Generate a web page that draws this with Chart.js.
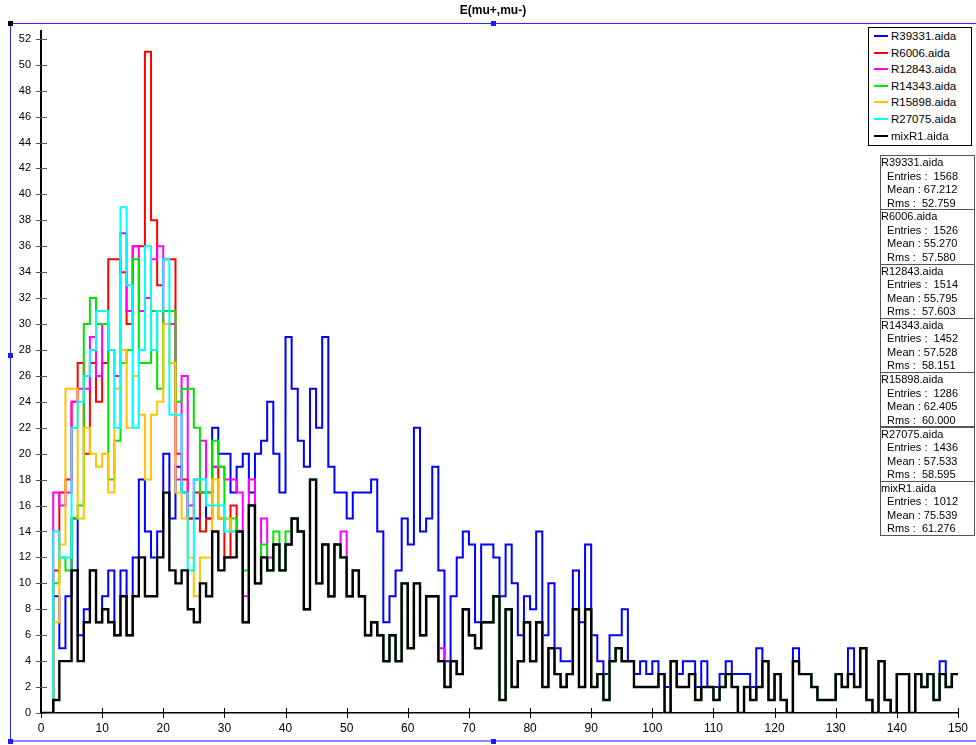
<!DOCTYPE html>
<html>
<head>
<meta charset="utf-8">
<title>E(mu+,mu-)</title>
<script src="https://cdn.jsdelivr.net/npm/chart.js@4.4.1/dist/chart.umd.min.js"></script>
<style>
  body { margin: 0; background: #fff; font-family: "Liberation Sans", Arial, sans-serif; }
  #wrap { position: relative; width: 976px; height: 745px; overflow: hidden; }
  #histChart { position: absolute; left: 0; top: 0; }
  #title { position: absolute; left: 0; width: 986px; top: 3px; text-align: center; font-size: 12px; font-weight: bold; color: #000; }
  .fline { position: absolute; background: #2a2aff; }
  .knob { position: absolute; width: 5px; height: 5px; background: #1a1aff; }
  #legend { position: absolute; left: 868px; top: 27px; width: 102px; height: 117px; border: 1px solid #000; background: #fff; font-size: 11.5px; }
  #legend .row { position: relative; height: 16.6px; line-height: 16.6px; }
  #legend .swatch { position: absolute; left: 5px; top: 7px; width: 14px; height: 2px; }
  #legend .lbl { position: absolute; left: 22px; top: 0; white-space: nowrap; }
  .stat { position: absolute; left: 880px; width: 93px; height: 53.3px; border: 1px solid #555; background: #fff; font-size: 11px; line-height: 13.5px; white-space: pre; color: #000; }
</style>
</head>
<body>
<div id="wrap">
  <canvas id="histChart" width="976" height="745"></canvas>
  <div id="title">E(mu+,mu-)</div>
  <div class="fline" style="left:10px; top:23px; width:966px; height:1px;"></div>
  <div class="fline" style="left:10px; top:23px; width:1px; height:718px;"></div>
  <div class="fline" style="left:10px; top:740px; width:966px; height:2px; background:#8a8aff;"></div>
  <div class="knob" style="left:8px; top:21px; background:#000;"></div>
  <div class="knob" style="left:491px; top:21px;"></div>
  <div class="knob" style="left:8px; top:353px;"></div>
  <div class="knob" style="left:8px; top:739px;"></div>
  <div class="knob" style="left:491px; top:739px;"></div>
  <div id="legend"></div>
  <div id="stats"></div>
</div>
<script>
// 各ランのヒストグラム (bin幅 1, 0〜150)
var labels = ["R39331.aida", "R6006.aida", "R12843.aida", "R14343.aida", "R15898.aida", "R27075.aida", "mixR1.aida"];
var colors = ["#0000ff", "#ff0000", "#ff00ff", "#00e800", "#ffc300", "#00ffff", "#000000"];

var r39331 = [0,0,9,5,9,15,6,8,11,7, 9,11,6,11,6,12,18,14,12,14, 20,15,19,17,15,15,17,15,22,20, 20,17,19,20,17,20,21,24,20,17,
  29,25,21,19,25,22,29,19,17,17, 15,17,17,17,18,14,7,9,11,15, 13,22,14,15,19,11,4,9,12,14, 13,7,13,13,12,9,13,10,6,9,
  8,14,6,10,5,4,4,11,7,13, 6,4,3,6,6,8,4,3,4,3, 4,3,2,4,3,4,4,2,4,2, 2,3,4,3,3,3,2,5,4,1,
  3,1,0,5,3,3,2,1,1,1, 3,2,5,2,5,1,0,4,1,0, 3,3,0,3,2,3,1,4,2,3];
var r6006 = [0,0,11,17,18,24,27,20,27,24, 27,35,35,34,30,36,36,51,38,33, 35,35,20,18,15,17,14,15,19,15, 12,16,14,7,16,10,12,11,13,11,
  13,15,14,8,18,10,13,9,13,12, 9,11,9,6,7,6,4,6,4,10, 5,10,6,9,9,4,2,4,3,8, 6,5,7,7,9,1,8,2,4,7,
  4,7,2,5,3,2,3,8,2,8, 2,3,1,4,5,4,4,2,2,2, 2,3,0,4,2,2,3,1,2,2, 1,2,3,2,0,2,1,2,4,1,
  3,1,0,4,3,3,2,1,1,1, 3,2,3,2,5,1,0,4,1,0, 3,3,0,3,2,3,1,3,2,3];
var r12843 = [0,0,17,16,17,24,25,25,29,26, 30,28,26,37,31,36,31,32,35,36, 30,30,18,26,16,18,21,17,19,19, 18,18,17,9,18,10,15,12,13,11,
  13,15,14,8,18,10,13,9,13,14, 9,11,9,6,7,6,4,6,4,10, 5,10,6,9,9,5,2,4,3,8, 6,5,7,7,9,1,8,2,4,7,
  4,7,2,5,3,2,3,8,2,8, 2,3,1,4,5,4,4,2,2,2, 2,3,0,4,2,2,3,1,2,2, 1,2,3,2,0,2,1,2,4,1,
  3,1,0,4,3,3,2,1,1,1, 3,2,3,2,5,1,0,4,1,0, 3,3,0,3,2,3,1,3,2,3];
var r14343 = [0,0,10,12,11,15,16,30,32,30, 30,18,21,27,28,35,27,27,31,25, 31,31,24,25,25,22,17,17,21,19, 15,15,14,11,16,10,13,11,14,11,
  14,15,14,8,18,10,13,9,13,12, 9,11,9,6,7,6,4,6,4,10, 5,10,6,9,9,4,2,4,3,8, 6,5,7,7,9,1,8,2,4,7,
  4,7,2,5,3,2,3,8,2,8, 2,3,1,4,5,4,4,2,2,2, 2,3,0,4,2,2,3,1,2,2, 1,2,3,2,0,2,1,2,4,1,
  3,1,0,4,3,3,2,1,1,1, 3,2,3,2,5,1,0,4,1,0, 3,3,0,3,2,3,1,3,2,3];
var r15898 = [0,0,7,13,25,25,15,22,20,19, 20,17,25,28,22,26,23,18,23,24, 30,27,17,15,12,9,12,12,18,15, 15,14,14,7,16,10,12,11,13,11,
  13,15,14,8,18,10,13,9,13,12, 9,11,9,6,7,6,4,6,4,10, 5,10,6,9,9,4,2,4,3,8, 6,5,7,7,9,1,8,2,4,7,
  4,7,2,5,3,2,3,8,2,8, 2,3,1,4,5,4,4,2,2,2, 2,3,0,4,2,2,3,1,2,2, 1,2,3,2,0,2,1,2,4,1,
  3,1,0,4,3,3,2,1,1,1, 3,2,3,2,5,1,0,4,1,0, 3,3,0,3,2,3,1,3,2,3];
var r27075 = [0,0,14,12,12,22,24,26,28,31, 31,28,22,39,33,22,28,36,28,31, 35,23,23,17,11,18,18,16,16,16, 14,14,14,7,16,10,12,11,13,11,
  13,15,14,8,18,10,13,9,13,12, 9,11,9,6,7,6,4,6,4,10, 5,10,6,9,9,4,2,4,3,8, 6,5,7,7,9,1,8,2,4,7,
  4,7,2,5,3,2,3,8,2,8, 2,3,1,4,5,4,4,2,2,2, 2,3,0,4,2,2,3,1,2,2, 1,2,3,2,0,2,1,2,4,1,
  3,1,0,4,3,3,2,1,1,1, 3,2,3,2,5,1,0,4,1,0, 3,3,0,3,2,3,1,3,2,3];
var mixR1 = [0,0,1,4,4,11,4,7,11,7, 8,7,6,9,6,9,12,9,9,12, 17,11,10,11,8,7,10,9,14,11, 12,12,14,7,16,10,12,11,13,11,
  13,15,14,8,18,10,13,9,13,12, 9,11,9,6,7,6,4,6,4,10, 5,10,6,9,9,4,2,4,3,8, 6,5,7,7,9,1,8,2,4,7,
  4,7,2,5,3,2,3,8,2,8, 2,3,1,4,5,4,4,2,2,2, 2,3,0,4,2,2,3,1,2,2, 1,2,3,2,0,2,1,2,4,1,
  3,1,0,4,3,3,2,1,1,1, 3,2,3,2,5,1,0,4,1,0, 3,3,0,3,2,3,1,3,2,3];

// 統計ボックス
var entries = [1568, 1526, 1514, 1452, 1286, 1436, 1012];
var means = ["67.212", "55.270", "55.795", "57.528", "62.405", "57.533", "75.539"];
var rmsValues = ["52.759", "57.580", "57.603", "58.151", "60.000", "58.595", "61.276"];

var series = [r39331, r6006, r12843, r14343, r15898, r27075, mixR1];
var xTicks = [0, 10, 20, 30, 40, 50, 60, 70, 80, 90, 100, 110, 120, 130, 140, 150];
var yTicks = [0, 2, 4, 6, 8, 10, 12, 14, 16, 18, 20, 22, 24, 26, 28, 30, 32, 34, 36, 38, 40, 42, 44, 46, 48, 50, 52];

// bin i -> 点 (i, v) 、最後のbinを閉じる点を足す
function toSteps(values) {
  var pts = values.map(function(v, i) { return { x: i, y: v }; });
  pts.push({ x: values.length, y: values[values.length - 1] });
  return pts;
}

var datasets = series.map(function(values, i) {
  return {
    label: labels[i],
    data: toSteps(values),
    borderColor: colors[i],
    backgroundColor: colors[i],
    borderWidth: i == 6 ? 2.4 : 2,
    stepped: 'before',
    pointRadius: 0,
    fill: false,
    order: 6 - i
  };
});

// 軸をまたぐ目盛り線
var crossTicks = {
  id: 'crossTicks',
  afterDraw: function(chart) {
    var ctx = chart.ctx;
    var xs = chart.scales.x;
    var ys = chart.scales.y;
    ctx.save();
    ctx.lineWidth = 1;
    ctx.strokeStyle = '#555';
    ys.ticks.forEach(function(t) {
      var py = Math.round(ys.getPixelForValue(t.value)) + 0.5;
      ctx.beginPath();
      ctx.moveTo(ys.right - 5, py);
      ctx.lineTo(ys.right + 6, py);
      ctx.stroke();
    });
    ctx.strokeStyle = '#000';
    xs.ticks.forEach(function(t) {
      var px = Math.round(xs.getPixelForValue(t.value)) + 0.5;
      ctx.beginPath();
      ctx.moveTo(px, xs.top - 5);
      ctx.lineTo(px, xs.top + 5);
      ctx.stroke();
    });
    ctx.restore();
  }
};

Chart.defaults.font.family = '"Liberation Sans", Arial, sans-serif';

var ctx = document.getElementById("histChart");
var histChart = new Chart(ctx, {
  type: 'line',
  data: { datasets: datasets },
  options: {
    responsive: false,
    animation: false,
    layout: { padding: { top: 31, right: 16, left: 0, bottom: 0 } },
    plugins: {
      legend: { display: false },
      tooltip: { enabled: false }
    },
    scales: {
      x: {
        type: 'linear',
        min: 0,
        max: 150,
        afterFit: function(scale) { scale.height = 32; },
        afterBuildTicks: function(scale) {
          scale.ticks = xTicks.map(function(v) { return { value: v }; });
        },
        grid: { display: false, drawTicks: false },
        border: { color: '#000', width: 1.5 },
        ticks: { color: '#000', font: { size: 12 }, padding: 8, maxRotation: 0, autoSkip: false }
      },
      y: {
        min: 0,
        max: 52.6,
        afterFit: function(scale) { scale.width = 41; },
        afterBuildTicks: function(scale) {
          scale.ticks = yTicks.map(function(v) { return { value: v }; });
        },
        grid: { display: false, drawTicks: false },
        border: { color: '#000', width: 2 },
        ticks: { color: '#000', font: { size: 11 }, padding: 10, autoSkip: false }
      }
    }
  },
  plugins: [crossTicks]
});

// 凡例
var legend = document.getElementById("legend");
labels.forEach(function(name, i) {
  var row = document.createElement("div");
  row.className = "row";
  row.innerHTML = '<span class="swatch" style="background:' + colors[i] + '"></span><span class="lbl">' + name + '</span>';
  legend.appendChild(row);
});

// 統計ボックス
var stats = document.getElementById("stats");
labels.forEach(function(name, i) {
  var box = document.createElement("div");
  box.className = "stat";
  box.style.top = (155 + i * 54.3) + "px";
  box.textContent = name + "\n  Entries :  " + entries[i] + "\n  Mean : " + means[i] + "\n  Rms :  " + rmsValues[i];
  stats.appendChild(box);
});
</script>
</body>
</html>
